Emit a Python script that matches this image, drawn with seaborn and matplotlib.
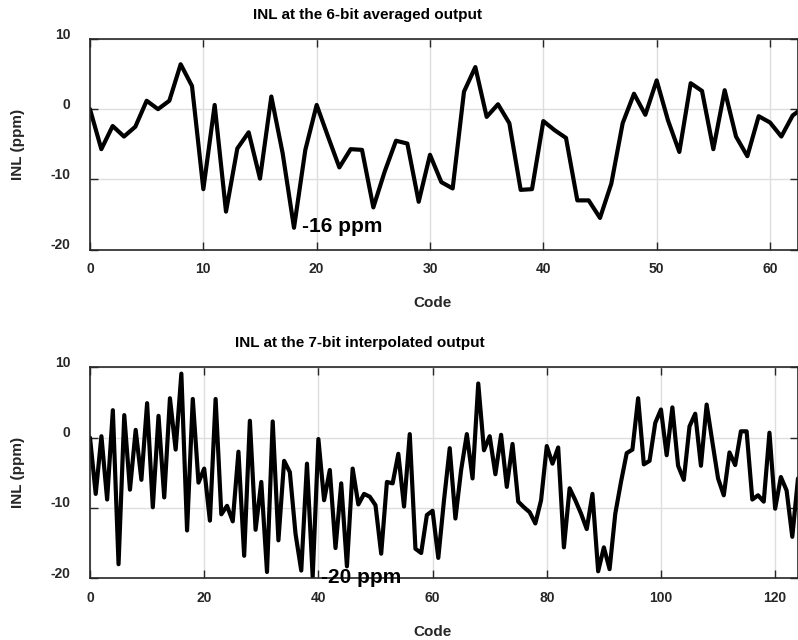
import numpy as np
import pandas as pd
import matplotlib
matplotlib.use("Agg")
import matplotlib.pyplot as plt
import matplotlib.transforms as mtransforms
import seaborn as sns

# ---- data ----
top_title = "INL at the 6-bit averaged output"
bottom_title = "INL at the 7-bit interpolated output"
x_label = "Code"
y_label = "INL (ppm)"

top_inl = [0.0, -5.7, -2.4, -3.9, -2.5, 1.2, 0.0, 1.2, 6.4, 3.3,
           -11.4, 0.6, -14.6, -5.6, -3.3, -9.9, 1.8, -6.3, -16.9, -5.8,
           0.6, -3.9, -8.3, -5.7, -5.8, -14.0, -8.9, -4.5, -4.9, -13.2,
           -6.5, -10.4, -11.3, 2.5, 6.0, -1.1, 0.7, -2.0, -11.5, -11.4,
           -1.7, -3.0, -4.1, -13.0, -13.0, -15.5, -10.6, -2.0, 2.2, -0.8,
           4.1, -1.6, -6.1, 3.7, 2.6, -5.7, 2.7, -3.9, -6.7, -1.0,
           -1.9, -3.9, -0.9, 0.3]

bottom_inl = [0.0, -8.0, 0.2, -8.8, 3.9, -18.0, 3.2, -7.4, 1.1, -6.0,
              4.9, -9.9, 3.1, -8.5, 5.6, -1.7, 9.1, -13.2, 5.5, -6.4,
              -4.4, -11.8, 5.5, -10.9, -9.7, -11.9, -2.0, -16.8, 2.4, -13.1,
              -6.3, -19.1, 2.3, -14.6, -3.3, -4.9, -13.7, -18.9, -3.7, -19.8,
              -0.2, -8.9, -4.6, -15.7, -6.5, -18.3, -4.4, -9.5, -8.0, -8.4,
              -9.6, -16.5, -6.3, -6.5, -2.3, -9.8, 0.5, -15.8, -16.4, -11.0,
              -10.4, -17.1, -8.9, -1.5, -11.5, -4.6, 0.5, -5.8, 7.7, -1.8,
              0.2, -5.2, 0.4, -7.0, -0.9, -9.1, -9.9, -10.6, -12.2, -8.9,
              -1.2, -3.7, -1.4, -15.6, -7.2, -8.9, -10.8, -13.0, -8.0, -19.0,
              -15.6, -18.7, -10.8, -6.3, -2.2, -1.7, 5.6, -3.8, -3.3, 2.1,
              4.0, -2.5, 4.3, -4.0, -6.0, 1.6, 3.4, -4.0, 4.7, -0.6,
              -5.8, -8.2, -2.1, -3.9, 0.9, 0.9, -8.8, -8.2, -9.1, 0.7,
              -10.1, -5.6, -7.5, -14.1, -5.8]

top_xticks = [0, 10, 20, 30, 40, 50, 60]
bottom_xticks = [0, 20, 40, 60, 80, 100, 120]
yticks = [-20, -10, 0, 10]

top_note = "-16 ppm"
top_note_idx = 18
bottom_note = "-20 ppm"
bottom_note_idx = 39

# ---- style ----
sns.set_style("whitegrid")
plt.rcParams["font.family"] = ["Liberation Sans", "DejaVu Sans"]
plt.rcParams["font.weight"] = "bold"
plt.rcParams["axes.unicode_minus"] = False

TXT = "#262626"
GRID = "#dedede"

fig = plt.figure(figsize=(7.98, 6.4), dpi=100)
W, H = 798.0, 640.0

def make_ax(left, right, top, bottom):
    return fig.add_axes([left / W, 1 - bottom / H, (right - left) / W, (bottom - top) / H])

ax1 = make_ax(90, 798, 39, 249.5)
ax2 = make_ax(90, 798, 367.3, 578.3)

df_top = pd.DataFrame({"Code": np.arange(len(top_inl)), "INL": top_inl})
df_bot = pd.DataFrame({"Code": np.arange(len(bottom_inl)), "INL": bottom_inl})

sns.lineplot(data=df_top, x="Code", y="INL", ax=ax1, color="black", linewidth=3.0)
sns.lineplot(data=df_bot, x="Code", y="INL", ax=ax2, color="black", linewidth=3.0)

def style(ax, xticks, xmax, title, title_x, title_y):
    ax.set_xlim(0, xmax)
    ax.set_ylim(-20, 10)
    ax.set_xticks(xticks)
    ax.set_yticks(yticks)
    ax.grid(True, color=GRID, linewidth=1.0)
    ax.set_axisbelow(True)
    for s in ax.spines.values():
        s.set_visible(True)
        s.set_color(TXT)
        s.set_linewidth(1.2)
    ax.tick_params(axis="both", which="major", direction="in", length=5.8, width=1.0,
                   color=TXT, labelcolor=TXT, labelsize=10,
                   top=True, right=True, bottom=True, left=True)
    ax.tick_params(axis="x", pad=9)
    ax.tick_params(axis="y", pad=14)
    for lab in ax.get_xticklabels() + ax.get_yticklabels():
        lab.set_fontweight("bold")
    ax.set_xlabel(x_label, fontsize=11, fontweight="bold", color=TXT)
    ax.set_ylabel(y_label, fontsize=11, fontweight="bold", color=TXT)
    ax.set_title(title, fontsize=11, fontweight="bold", color="black",
                 x=title_x, y=title_y, ha="center", pad=0)

style(ax1, top_xticks, 62.47, top_title, (367.5 - 90) / 708, (249.5 - 19) / 210.5)
style(ax2, bottom_xticks, 124.0, bottom_title, (360 - 90) / 708, (578.3 - 347) / 211)

# axis label placement
for ax, ybot, h in [(ax1, 249.5, 210.5), (ax2, 578.3, 211.0)]:
    ax.xaxis.label.set_verticalalignment("center")
    ax.xaxis.set_label_coords((433 - 90) / 708, (ybot - (ybot + 53.5)) / h)
    ax.yaxis.label.set_verticalalignment("center")
    ax.yaxis.label.set_horizontalalignment("center")
    ax.yaxis.set_label_coords((18 - 90) / 708, 0.5)
    # y tick labels sit slightly above their ticks
    off = mtransforms.ScaledTranslation(0, 0.06, fig.dpi_scale_trans)
    for t in ax.yaxis.get_major_ticks():
        t.label1.set_transform(t.label1.get_transform() + off)

# annotations at minima
ax1.annotate(top_note, xy=(top_note_idx, top_inl[top_note_idx]), xytext=(6, 1),
             textcoords="offset points", fontsize=15, fontweight="bold",
             color="black", ha="left", va="center")
ax2.annotate(bottom_note, xy=(bottom_note_idx, bottom_inl[bottom_note_idx]), xytext=(6, -0.5),
             textcoords="offset points", fontsize=15, fontweight="bold",
             color="black", ha="left", va="center")

fig.savefig("out.png", dpi=100)
